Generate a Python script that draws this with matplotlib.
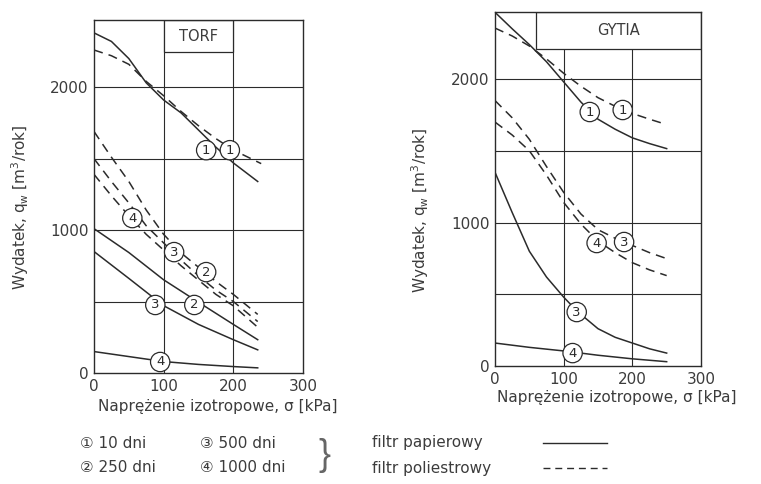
import matplotlib
matplotlib.use("Agg")
import matplotlib.pyplot as plt
from matplotlib.patches import Rectangle
from matplotlib.lines import Line2D

# --- data (sigma in kPa, q_w in m3/rok) ---
# TORF
torf_s1_x = [0, 25, 50, 75, 100, 125, 150, 175, 200, 235]
torf_s1_y = [2380, 2320, 2200, 2030, 1910, 1820, 1700, 1580, 1470, 1340]
torf_d1_x = [0, 25, 50, 75, 100, 125, 150, 175, 200, 240]
torf_d1_y = [2260, 2220, 2160, 2040, 1940, 1830, 1730, 1640, 1560, 1465]
torf_s2_x = [0, 50, 100, 150, 200, 235]
torf_s2_y = [1010, 843, 652, 495, 340, 233]
torf_s3_x = [0, 50, 100, 150, 200, 235]
torf_s3_y = [850, 662, 471, 340, 233, 162]
torf_s4_x = [0, 50, 100, 150, 200, 235]
torf_s4_y = [150, 115, 80, 60, 45, 36]
torf_d2_x = [0, 25, 50, 75, 100, 125, 150, 175, 200, 235]
torf_d2_y = [1690, 1510, 1340, 1140, 970, 840, 740, 640, 550, 410]
torf_d3_x = [0, 25, 50, 75, 100, 125, 150, 175, 200, 235]
torf_d3_y = [1500, 1340, 1190, 1030, 910, 790, 680, 580, 500, 360]
torf_d4_x = [0, 25, 50, 75, 100, 125, 150, 175, 200, 235]
torf_d4_y = [1390, 1240, 1100, 970, 860, 750, 650, 550, 470, 320]

# GYTIA
gyt_s1_x = [0, 25, 50, 75, 100, 125, 150, 175, 200, 225, 250]
gyt_s1_y = [2465, 2350, 2240, 2120, 1980, 1840, 1720, 1650, 1590, 1550, 1515]
gyt_d1_x = [0, 25, 50, 75, 100, 125, 150, 175, 200, 225, 245]
gyt_d1_y = [2355, 2300, 2230, 2140, 2040, 1950, 1870, 1810, 1760, 1720, 1690]
gyt_s3_x = [0, 25, 50, 75, 100, 120, 150, 175, 200, 225, 250]
gyt_s3_y = [1350, 1070, 800, 620, 480, 380, 260, 200, 160, 120, 90]
gyt_s4_x = [0, 50, 100, 150, 200, 250]
gyt_s4_y = [160, 130, 105, 75, 50, 30]
gyt_d3_x = [0, 25, 50, 75, 100, 125, 150, 175, 200, 225, 255]
gyt_d3_y = [1850, 1730, 1580, 1390, 1210, 1060, 950, 890, 840, 790, 740]
gyt_d4_x = [0, 25, 50, 75, 100, 125, 150, 175, 200, 225, 250]
gyt_d4_y = [1700, 1610, 1500, 1330, 1140, 990, 870, 790, 720, 670, 630]

# circled curve labels: (text, sigma, q)
torf_labels = [("1", 161, 1559), ("1", 195, 1559), ("4", 55, 1084), ("3", 115, 846),
               ("2", 161, 706), ("3", 88, 476), ("2", 144, 476), ("4", 95, 77)]
gyt_labels = [("1", 138, 1770), ("1", 186, 1784), ("4", 148, 857), ("3", 188, 864),
              ("3", 119, 376), ("4", 113, 90)]

xticks = [0, 100, 200, 300]
yticks = [0, 1000, 2000]
grid_y = [500, 1000, 1500, 2000]
grid_x = [100, 200]

ink = "#2b2b2b"
txt = "#3c3c3c"
plt.rcParams["font.family"] = ["DejaVu Sans", "Noto Sans CJK JP"]
plt.rcParams["font.size"] = 11

fig = plt.figure(figsize=(7.61, 4.84), dpi=100)
ax1 = fig.add_axes([94 / 761, 1 - 373 / 484, 209 / 761, 353 / 484])
ax2 = fig.add_axes([495 / 761, 1 - 366 / 484, 206 / 761, 354 / 484])


def setup(ax, ytop, xl_y):
    ax.set_xlim(0, 300)
    ax.set_ylim(0, ytop)
    ax.set_xticks(xticks)
    ax.set_yticks(yticks)
    ax.tick_params(length=0, colors=txt, labelsize=11, pad=4)
    for y in grid_y:
        ax.axhline(y, color=ink, lw=0.8, zorder=1)
    for sp in ax.spines.values():
        sp.set_color(ink)
        sp.set_linewidth(1.0)
    ax.set_xlabel("Naprężenie izotropowe, σ [kPa]", color=txt, fontsize=11)
    ax.xaxis.set_label_coords(0.59, xl_y)
    ax.set_ylabel("Wydatek, q$_\\mathrm{w}$ [m$^3$/rok]", color=txt, fontsize=11)


def circ(ax, items):
    for t, x, y in items:
        ax.text(x, y, t, ha="center", va="center", fontsize=9.5, color=ink, zorder=5,
                bbox=dict(boxstyle="circle,pad=0.24", fc="white", ec=ink, lw=0.9))


# TORF panel
setup(ax1, 2470, -0.074)
ax1.yaxis.set_label_coords(-0.30, 0.47)
for x in grid_x:
    ax1.axvline(x, color=ink, lw=0.8, zorder=1)
ax1.add_patch(Rectangle((100, 2245), 100, 2470 - 2245, fc="white", ec=ink, lw=0.9, zorder=1.5))
ax1.text(150, 2357, "TORF", ha="center", va="center", color=txt, fontsize=10.5, zorder=2)
for xs, ys in [(torf_s1_x, torf_s1_y), (torf_s2_x, torf_s2_y), (torf_s3_x, torf_s3_y), (torf_s4_x, torf_s4_y)]:
    ax1.plot(xs, ys, color=ink, lw=1.1, zorder=3)
for xs, ys in [(torf_d1_x, torf_d1_y), (torf_d2_x, torf_d2_y), (torf_d3_x, torf_d3_y), (torf_d4_x, torf_d4_y)]:
    ax1.plot(xs, ys, color=ink, lw=1.1, ls=(0, (6, 4)), zorder=3)
circ(ax1, torf_labels)

# GYTIA panel
setup(ax2, 2467, -0.068)
ax2.yaxis.set_label_coords(-0.31, 0.44)
for x in grid_x:
    ax2.axvline(x, color=ink, lw=0.8, zorder=1)
ax2.add_patch(Rectangle((60, 2209), 240, 2467 - 2209, fc="white", ec=ink, lw=0.9, zorder=1.5))
ax2.text(180, 2338, "GYTIA", ha="center", va="center", color=txt, fontsize=10.5, zorder=2)
for xs, ys in [(gyt_s1_x, gyt_s1_y), (gyt_s3_x, gyt_s3_y), (gyt_s4_x, gyt_s4_y)]:
    ax2.plot(xs, ys, color=ink, lw=1.1, zorder=3)
for xs, ys in [(gyt_d1_x, gyt_d1_y), (gyt_d3_x, gyt_d3_y), (gyt_d4_x, gyt_d4_y)]:
    ax2.plot(xs, ys, color=ink, lw=1.1, ls=(0, (6, 4)), zorder=3)
circ(ax2, gyt_labels)

# legend block at the bottom
r1 = 1 - 443 / 484
r2 = 1 - 468 / 484
fig.text(80 / 761, r1, "① 10 dni", va="center", color=txt, fontsize=11)
fig.text(80 / 761, r2, "② 250 dni", va="center", color=txt, fontsize=11)
fig.text(200 / 761, r1, "③ 500 dni", va="center", color=txt, fontsize=11)
fig.text(200 / 761, r2, "④ 1000 dni", va="center", color=txt, fontsize=11)
fig.text(318 / 761, (r1 + r2) / 2, "}", va="center", ha="left", color="#666666",
         fontsize=26, family="Liberation Sans", fontweight="light")
fig.text(372 / 761, r1, "filtr papierowy", va="center", color=txt, fontsize=11)
fig.text(372 / 761, r2, "filtr poliestrowy", va="center", color=txt, fontsize=11)
fig.add_artist(Line2D([543 / 761, 607 / 761], [r1, r1], color=ink, lw=1.0))
fig.add_artist(Line2D([543 / 761, 607 / 761], [r2, r2], color=ink, lw=1.0, ls=(0, (5, 3.5))))

fig.savefig("out.png", dpi=100)
